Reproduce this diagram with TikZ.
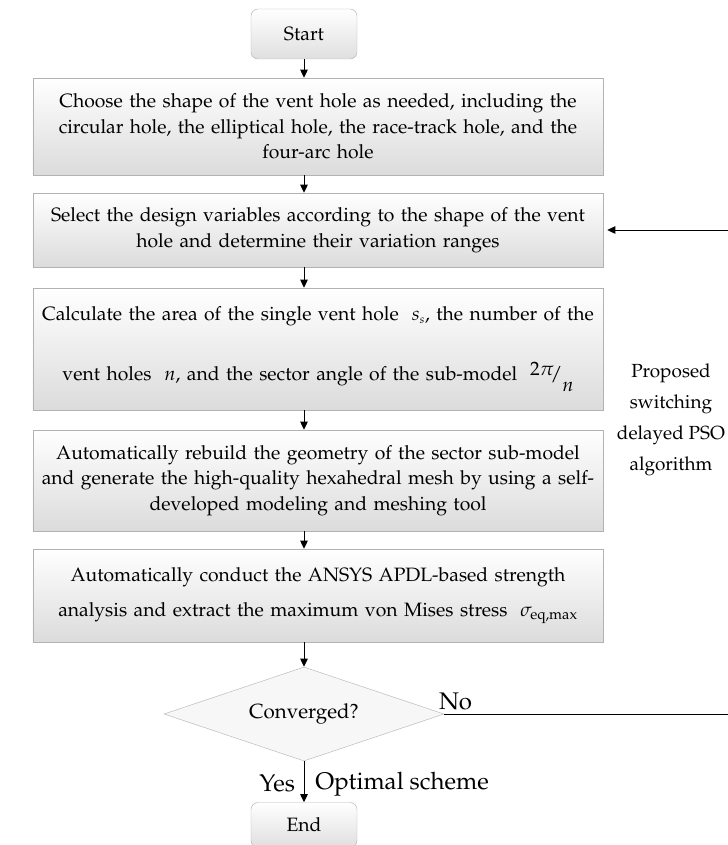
\documentclass[tikz,border=0pt]{standalone}
\usepackage[T1]{fontenc}
\usepackage{amsmath}
\usepackage{mathpazo}
\usetikzlibrary{shapes.geometric, positioning, arrows.meta, calc}
\tikzset{
  startstop/.style={rectangle, rounded corners=6pt, minimum width=3.18cm, minimum height=1.5cm, text centered, draw=gray!60, top color=white, bottom color=gray!25},
  process/.style={rectangle, minimum width=17.1cm, text width=16.8cm, align=center, draw=gray!60, top color=white, bottom color=gray!28, inner sep=2pt},
  decision/.style={diamond, aspect=3, minimum width=8.4cm, minimum height=2.82cm, inner sep=0pt, text centered, draw=gray!55, fill=gray!6},
  arrow/.style={thick,-{Triangle[length=7pt,width=6.5pt]}},
  txt/.style={font=\fontsize{16.5}{21.8}\selectfont},
  lbl/.style={font=\fontsize{20.5}{24}\selectfont}
}

\begin{document}
\begin{tikzpicture}[x=0.03cm, y=-0.03cm, every node/.style={txt}]
  \useasboundingbox (0,0) rectangle (727,845);

  % Inicio
  \node[startstop] (start) at (304,34) {Start};

  % Pasos del proceso
  \node[process, minimum height=2.91cm] (choose) at (318,126.5)
    {Choose the shape of the vent hole as needed, including the\\
     circular hole, the elliptical hole, the race-track hole, and the\\
     four-arc hole};
  \node[process, minimum height=2.22cm] (select) at (318,230)
    {Select the design variables according to the shape of the vent\\
     hole and determine their variation ranges};
  \node[process, minimum height=3.66cm] (calc) at (318,349)
    {Calculate the area of the single vent hole \ $s_{\scriptscriptstyle s}$, the number of the\\[30pt]
     vent holes \ $n$, and the sector angle of the sub-model \ \raisebox{5pt}{$2\pi$}\!/\raisebox{-9pt}{$n$}};
  \node[process, minimum height=3.03cm] (rebuild) at (318,480.5)
    {Automatically rebuild the geometry of the sector sub-model\\
     and generate the high-quality hexahedral mesh by using a self-\\
     developed modeling and meshing tool};
  \node[process, minimum height=2.79cm] (ansys) at (318,595.5)
    {Automatically conduct the ANSYS APDL-based strength\\[8pt]
     analysis and extract the maximum von Mises stress \ $\sigma_{\mathrm{eq,max}}$};

  % Decision y fin
  \node[decision, font=\fontsize{17.5}{21}\selectfont] (conv) at (304,714) {Converged?};
  \node[startstop, minimum height=1.35cm] (stop) at (304,825) {End};

  % Texto del lazo PSO
  \node[align=center, font=\fontsize{16.2}{26.5}\selectfont] (pso) at (671,420) {Proposed\\ switching\\ delayed PSO\\ algorithm};

  % Flechas principales
  \draw[arrow] (start.south) -- (start.south |- choose.north);
  \draw[arrow] (choose.south -| start.south) -- (select.north -| start.south);
  \draw[arrow] (select.south -| start.south) -- (calc.north -| start.south);
  \draw[arrow] (calc.south -| start.south) -- (rebuild.north -| start.south);
  \draw[arrow] (rebuild.south -| start.south) -- (ansys.north -| start.south);
  \draw[arrow] (ansys.south -| start.south) -- (conv.north);
  \draw[arrow] (conv.south) -- node[pos=0.55, left, lbl, xshift=-4pt] {Yes} node[pos=0.55, right, lbl, xshift=6pt] {Optimal scheme} (stop.north);

  % Lazo de retroalimentacion (No), la vertical queda en el borde
  \coordinate (back) at (729,714);
  \draw[thick] (conv.east) -- (back);
  \node[lbl, above right, xshift=-8pt, yshift=0pt] (no) at (conv.east) {No};
  \draw[arrow] (back) |- ($(select.east)+(4,0)$);

\end{tikzpicture}
\end{document}
